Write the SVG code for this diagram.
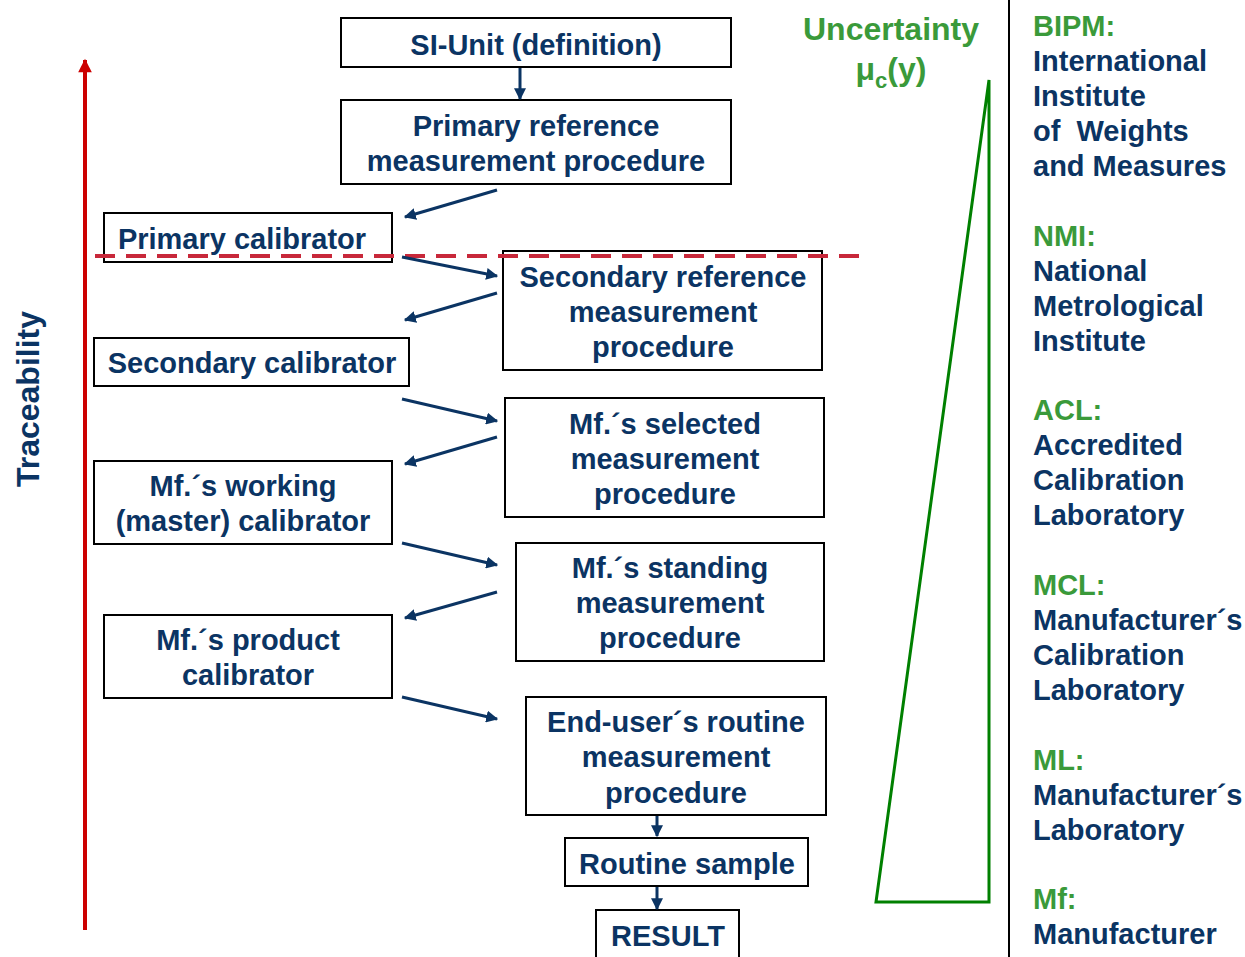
<svg xmlns="http://www.w3.org/2000/svg" width="1245" height="957" viewBox="0 0 1245 957">
  <style>
    .box { fill: #ffffff; stroke: #000000; stroke-width: 2; }
    .t { font-family: "Liberation Sans", Arial, sans-serif; font-weight: bold; font-size: 29px; fill: #0b3463; text-anchor: middle; }
    .r { font-family: "Liberation Sans", Arial, sans-serif; font-weight: bold; font-size: 29px; fill: #0b3463; white-space: pre; }
    .g { fill: #3a9a3a; }
    .conn { stroke: #0b3463; stroke-width: 3; fill: none; marker-end: url(#ah); }
  </style>
  <defs>
    <marker id="ah" viewBox="0 0 10 10" refX="9" refY="5" markerWidth="4" markerHeight="4" orient="auto" markerUnits="strokeWidth">
      <path d="M0,0 L10,5 L0,10 z" fill="#0b3463"/>
    </marker>
    <marker id="redhead" viewBox="0 0 10 10" refX="9" refY="5" markerWidth="5.5" markerHeight="3.4" orient="auto" markerUnits="strokeWidth">
      <path d="M0,0 L10,5 L0,10 z" fill="#cc0000"/>
    </marker>
  </defs>

  <!-- traceability axis -->
  <g id="traceability">
    <line x1="85" y1="930" x2="85" y2="60" stroke="#cc0000" stroke-width="4" marker-end="url(#redhead)"/>
    <text class="t" transform="translate(39,399) rotate(-90)" style="font-size:32px">Traceability</text>
  </g>

  <!-- nodes -->
  <g id="si-unit">
    <rect class="box" x="341" y="18" width="390" height="49"/>
    <text class="t" x="536" y="55">SI-Unit (definition)</text>
  </g>
  <g id="primary-ref">
    <rect class="box" x="341" y="100" width="390" height="84"/>
    <text class="t" x="536" y="136">Primary reference</text>
    <text class="t" x="536" y="171">measurement procedure</text>
  </g>
  <g id="primary-cal">
    <rect class="box" x="104" y="213" width="288" height="49"/>
    <text class="t" x="242" y="249">Primary calibrator</text>
  </g>
  <g id="secondary-ref">
    <rect class="box" x="503" y="251" width="319" height="119"/>
    <text class="t" x="663" y="287">Secondary reference</text>
    <text class="t" x="663" y="322">measurement</text>
    <text class="t" x="663" y="357">procedure</text>
  </g>
  <g id="secondary-cal">
    <rect class="box" x="94" y="338" width="315" height="48"/>
    <text class="t" x="252" y="373">Secondary calibrator</text>
  </g>
  <g id="selected">
    <rect class="box" x="505" y="398" width="319" height="119"/>
    <text class="t" x="665" y="434">Mf.´s selected</text>
    <text class="t" x="665" y="469">measurement</text>
    <text class="t" x="665" y="504">procedure</text>
  </g>
  <g id="working-cal">
    <rect class="box" x="94" y="461" width="298" height="83"/>
    <text class="t" x="243" y="496">Mf.´s working</text>
    <text class="t" x="243" y="531">(master) calibrator</text>
  </g>
  <g id="standing">
    <rect class="box" x="516" y="543" width="308" height="118"/>
    <text class="t" x="670" y="578">Mf.´s standing</text>
    <text class="t" x="670" y="613">measurement</text>
    <text class="t" x="670" y="648">procedure</text>
  </g>
  <g id="product-cal">
    <rect class="box" x="104" y="615" width="288" height="83"/>
    <text class="t" x="248" y="650">Mf.´s product</text>
    <text class="t" x="248" y="685">calibrator</text>
  </g>
  <g id="end-user">
    <rect class="box" x="526" y="697" width="300" height="118"/>
    <text class="t" x="676" y="732">End-user´s routine</text>
    <text class="t" x="676" y="767">measurement</text>
    <text class="t" x="676" y="803">procedure</text>
  </g>
  <g id="routine-sample">
    <rect class="box" x="565" y="838" width="243" height="48"/>
    <text class="t" x="687" y="874">Routine sample</text>
  </g>
  <g id="result">
    <rect class="box" x="596" y="910" width="143" height="60"/>
    <text class="t" x="668" y="946">RESULT</text>
  </g>

  <!-- reference level divider -->
  <line id="divider" x1="95" y1="256" x2="862" y2="256" stroke="#c8283a" stroke-width="4" stroke-dasharray="20 11"/>

  <!-- connectors -->
  <g id="connectors">
    <line class="conn" x1="520" y1="68" x2="520" y2="99"/>
    <line class="conn" x1="497" y1="190" x2="405" y2="217"/>
    <line class="conn" x1="402" y1="257" x2="497" y2="276"/>
    <line class="conn" x1="497" y1="293" x2="405" y2="320"/>
    <line class="conn" x1="402" y1="399" x2="497" y2="421"/>
    <line class="conn" x1="497" y1="437" x2="405" y2="464"/>
    <line class="conn" x1="402" y1="543" x2="497" y2="565"/>
    <line class="conn" x1="497" y1="592" x2="405" y2="618"/>
    <line class="conn" x1="402" y1="697" x2="497" y2="719"/>
    <line class="conn" x1="657" y1="816" x2="657" y2="836"/>
    <line class="conn" x1="657" y1="887" x2="657" y2="909"/>
  </g>

  <!-- uncertainty wedge -->
  <g id="uncertainty">
    <text class="t g" x="891" y="40" style="font-size:32px">Uncertainty</text>
    <text class="t g" x="891" y="80" style="font-size:32px">μ<tspan dy="8" style="font-size:22px">c</tspan><tspan dy="-8">(y)</tspan></text>
    <polygon points="876,902 989,80 989,902" fill="none" stroke="#008000" stroke-width="3"/>
  </g>

  <line id="separator" x1="1009" y1="0" x2="1009" y2="957" stroke="#000000" stroke-width="2"/>

  <!-- abbreviations legend -->
  <g id="legend">
    <text class="r g" x="1033" y="36">BIPM:</text>
    <text class="r" x="1033" y="71">International</text>
    <text class="r" x="1033" y="106">Institute</text>
    <text class="r" x="1033" y="141">of  Weights</text>
    <text class="r" x="1033" y="176">and Measures</text>

    <text class="r g" x="1033" y="246">NMI:</text>
    <text class="r" x="1033" y="281">National</text>
    <text class="r" x="1033" y="316">Metrological</text>
    <text class="r" x="1033" y="351">Institute</text>

    <text class="r g" x="1033" y="420">ACL:</text>
    <text class="r" x="1033" y="455">Accredited</text>
    <text class="r" x="1033" y="490">Calibration</text>
    <text class="r" x="1033" y="525">Laboratory</text>

    <text class="r g" x="1033" y="595">MCL:</text>
    <text class="r" x="1033" y="630">Manufacturer´s</text>
    <text class="r" x="1033" y="665">Calibration</text>
    <text class="r" x="1033" y="700">Laboratory</text>

    <text class="r g" x="1033" y="770">ML:</text>
    <text class="r" x="1033" y="805">Manufacturer´s</text>
    <text class="r" x="1033" y="840">Laboratory</text>

    <text class="r g" x="1033" y="909">Mf:</text>
    <text class="r" x="1033" y="944">Manufacturer</text>
  </g>
</svg>
